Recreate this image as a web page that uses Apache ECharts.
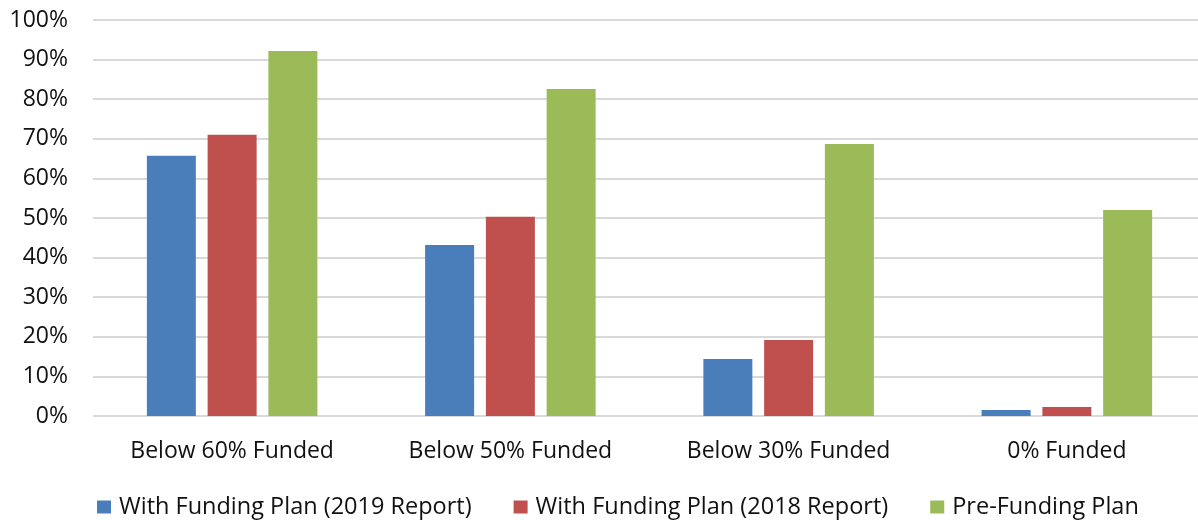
<!DOCTYPE html>
<html>
<head>
<meta charset="utf-8">
<script src="https://cdn.jsdelivr.net/npm/echarts@6/dist/echarts.min.js"></script>
<style>
html,body{margin:0;padding:0;background:#fff;overflow:hidden;width:1198px;height:520px;}
#chart{width:1206px;height:520px;}
</style>
</head>
<body>
<div id="chart"></div>
<script>
const categories = ['Below 60% Funded', 'Below 50% Funded', 'Below 30% Funded', '0% Funded'];
const seriesNames = ['With Funding Plan (2019 Report)', 'With Funding Plan (2018 Report)', 'Pre-Funding Plan'];
const plan2019 = [0.657, 0.432, 0.144, 0.015];
const plan2018 = [0.710, 0.503, 0.192, 0.023];
const preFunding = [0.922, 0.826, 0.687, 0.520];
const colors = ['#4A7EBB', '#C0504D', '#9BBB59'];

const font = 'Open Sans';
const chart = echarts.init(document.getElementById('chart'), null, {renderer: 'canvas'});
const values = [plan2019, plan2018, preFunding];
chart.setOption({
  animation: false,
  color: colors,
  grid: {left: 93, top: 20, right: 0, bottom: 104, containLabel: false},
  legend: {
    top: 495,
    left: 97,
    padding: 0,
    itemWidth: 14,
    itemHeight: 13,
    itemGap: 42,
    icon: 'rect',
    textStyle: {fontFamily: font, fontSize: 23.5, color: '#111', padding: [0, 0, 0, 3]},
    data: seriesNames
  },
  xAxis: {
    type: 'category',
    data: categories,
    axisLine: {show: false},
    axisTick: {show: false},
    axisLabel: {fontFamily: font, fontSize: 23, color: '#111', margin: 24}
  },
  yAxis: {
    type: 'value',
    min: 0,
    max: 1,
    interval: 0.1,
    axisLine: {show: false},
    axisTick: {show: false},
    splitLine: {lineStyle: {color: '#d9d9d9', width: 2}},
    axisLabel: {
      fontFamily: font, fontSize: 23, color: '#111', margin: 25,
      formatter: v => Math.round(v * 100) + '%'
    }
  },
  series: seriesNames.map((n, i) => ({
    name: n,
    type: 'bar',
    data: values[i],
    barWidth: 49,
    barGap: '24%'
  }))
});
</script>
</body>
</html>
